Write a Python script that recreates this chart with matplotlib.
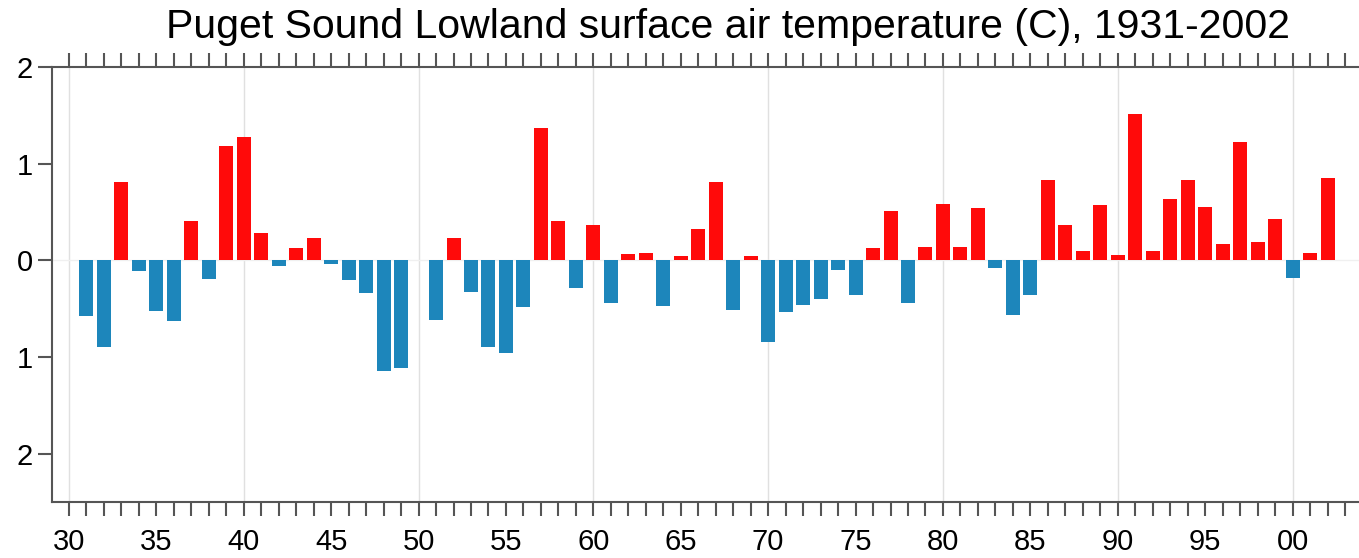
import matplotlib.pyplot as plt
import numpy as np

# years as 2-digit offsets from 1900 (1931..2002 -> 31..102)
years = list(range(31, 103))
anom = [-0.58, -0.90, 0.81, -0.11, -0.52, -0.63, 0.41, -0.19, 1.18, 1.28,
        0.28, -0.06, 0.13, 0.23, -0.04, -0.20, -0.34, -1.15, -1.11, 0.0,
        -0.62, 0.23, -0.33, -0.90, -0.96, -0.48, 1.37, 0.41, -0.29, 0.37,
        -0.44, 0.07, 0.08, -0.47, 0.04, 0.32, 0.81, -0.51, 0.04, -0.84,
        -0.53, -0.46, -0.40, -0.10, -0.36, 0.13, 0.51, -0.44, 0.14, 0.58,
        0.14, 0.54, -0.08, -0.57, -0.36, 0.83, 0.37, 0.10, 0.57, 0.06,
        1.51, 0.10, 0.63, 0.83, 0.55, 0.17, 1.22, 0.19, 0.43, -0.18,
        0.08, 0.85]

label_years = list(range(30, 101, 5))
label_text = ["%02d" % (y % 100) for y in label_years]
ytick_vals = [2, 1, 0, -1, -2]
ytick_text = ["2", "1", "0", "1", "2"]

plt.rcParams['font.family'] = ['Liberation Sans', 'DejaVu Sans']

fig = plt.figure(figsize=(13.59, 5.58), dpi=100)
ax = fig.add_axes([52 / 1359, 56 / 558, 1 - 52 / 1359, 435 / 558])

cols = ['#ff0a0a' if v > 0 else '#1d86bb' for v in anom]
ax.bar(years, anom, width=0.8, color=cols, zorder=3)

for g in range(30, 101, 10):
    ax.axvline(g, color='#e0e0e0', lw=1, zorder=1)
ax.axhline(0, color='#f0f0f0', lw=1, zorder=1)

ax.set_xlim(29.03, 103.8)
ax.set_ylim(-2.5, 2)

ax.set_xticks(label_years)
ax.set_xticklabels(label_text, fontsize=21)
ax.set_xticks(range(30, 104), minor=True)
ax.tick_params(axis='x', which='both', direction='out', length=10, width=1.5,
               color='#555555', top=True, labeltop=False, pad=9)
ax.set_yticks(ytick_vals)
ax.set_yticklabels(ytick_text, fontsize=21)
ax.tick_params(axis='y', direction='out', length=10, width=1.5, color='#555555', pad=4)

for s in ['left', 'top', 'bottom']:
    ax.spines[s].set_color('#555555')
    ax.spines[s].set_linewidth(1.5)
ax.spines['right'].set_visible(False)

fig.text(728 / 1359, 1 - 27 / 558, "Puget Sound Lowland surface air temperature (C), 1931-2002",
         ha='center', va='center', fontsize=29.5)

plt.savefig("out.png", dpi=100)
